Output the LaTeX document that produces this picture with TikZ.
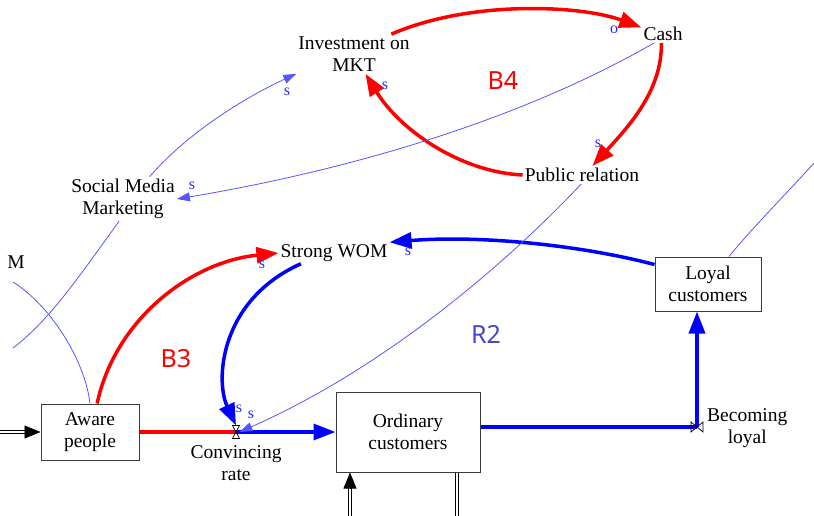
\documentclass[tikz,border=0pt]{standalone}
\usepackage{fontspec}
\setmainfont{Liberation Serif}
\newfontfamily\loopfont{Noto Sans}
\usetikzlibrary{arrows.meta,calc}
\definecolor{thinblue}{RGB}{85,85,255}
\definecolor{polblue}{RGB}{40,40,255}
\definecolor{loopblue}{RGB}{70,70,200}
\definecolor{boxgray}{RGB}{60,60,60}
\definecolor{lred}{RGB}{255,0,0}
\definecolor{lblue}{RGB}{0,0,255}
\begin{document}
\begin{tikzpicture}[x=1pt,y=-1pt,
  lbl/.style={font=\fontsize{19.5}{22.5}\selectfont, align=center, inner sep=2pt},
  stock/.style={lbl, draw=boxgray, line width=1pt},
  pol/.style={font=\fontsize{16}{18}\selectfont, text=polblue, inner sep=0pt},
  looplbl/.style={font=\loopfont\fontsize{25}{27}\selectfont, inner sep=0pt},
  bigtip/.style={-{Triangle[length=22pt,width=16pt]}},
  thickred/.style={draw=lred, line width=3.5pt, bigtip},
  thickblue/.style={draw=lblue, line width=3.5pt, bigtip},
  thinlink/.style={draw=thinblue, line width=0.8pt},
  thinarrow/.style={thinlink, -{Triangle[length=13pt,width=9pt]}},
  pipered/.style={draw=lred, line width=3.5pt},
  pipeblue/.style={draw=lblue, line width=3.5pt},
  dblpipe/.style={draw=black, double=white, double distance=2.5pt, line width=0.7pt},
  inflowtip/.style={draw=black, line width=0.7pt, -{Triangle[length=16pt,width=13pt]}},
  valveshape/.style={draw=black, line width=0.7pt},
  valvenode/.style={inner sep=0pt, outer sep=0pt}
]
\useasboundingbox (0,0) rectangle (814,516);

% variables
\node[lbl] (inv) at (354,54) {Investment on\\MKT};
\node[lbl] (cash) at (663,34) {Cash};
\node[lbl] (pr) at (582,175) {Public relation};
\node[lbl] (smm) at (123,199) {Social Media\\Marketing};
\node[lbl] (swom) at (334,253) {Strong WOM};
\node[lbl, anchor=east] (wom) at (27,262) {M};

% stocks
\node[stock, minimum width=98pt, minimum height=56pt] (aware) at (90,432) {Aware\\people};
\node[stock, minimum width=144pt, minimum height=80pt] (ord) at (408,432) {Ordinary\\customers};
\node[stock, minimum width=106pt, minimum height=54pt] (loyal) at (708,284) {Loyal\\customers};

% valves
\node[valvenode, minimum width=7pt, minimum height=13pt] (cr) at (236,432) {};
\node[valvenode, minimum width=12pt, minimum height=10pt] (bl) at (697,427) {};
\node[lbl, anchor=north] (crl) at (236,443) {Convincing\\rate};
\node[lbl, anchor=west] (bll) at (705,428) {Becoming\\loyal};

% free ends
\coordinate (srcL) at (0,432);
\coordinate (srcB) at (350,516);
\coordinate (snkB) at (457,516);
\coordinate (offL1) at (13,348);
\coordinate (offL2) at (13,282);
\coordinate (offTR) at (816,161);

% flows
\draw[dblpipe] (srcL) -- ($(aware.west)+(-15,0)$);
\draw[inflowtip] ($(aware.west)+(-16,0)$) -- (aware.west);
\draw[dblpipe] (srcB) -- ($(srcB |- ord.south)+(0,15)$);
\draw[inflowtip] ($(srcB |- ord.south)+(0,16)$) -- (srcB |- ord.south);
\draw[dblpipe] (snkB |- ord.south) -- (snkB);
\draw[pipered] (aware.east) -- (cr.center);
\draw[pipeblue, bigtip] (cr.center) -- (ord.west);
\draw[pipeblue] (ord.east |- bl) -- (bl.center);
\draw[pipeblue, bigtip] (bl.center) -- (bl |- loyal.south);

% red causal links
\draw[thickred] (inv.28) .. controls (470,0) and (580,5) .. (cash.163);
\draw[thickred] (cash.-100) .. controls (662,90) and (630,125) .. (pr.41);
\draw[thickred] (pr.west) .. controls (460,172) and (400,130) .. (inv.-60);
\draw[thickred] (aware.76) .. controls (115,320) and (190,262) .. (swom.west);

% blue thick links
\draw[thickblue] (swom.198) .. controls (220,300) and (215,380) .. (cr.north);
\draw[thickblue] (loyal.160) .. controls (580,245) and (480,235) .. (swom.north east);

% thin links
\draw[thinarrow] (cash.-135) .. controls (520,120) and (350,170) .. (smm.east);
\draw[thinarrow] (smm.40) .. controls (190,130) and (250,95) .. (inv.south west);
\draw[thinlink] (smm.-100) .. controls (80,275) and (50,320) .. (offL1);
\draw[thinlink] (offL2) .. controls (50,305) and (85,360) .. (aware.north);
\draw[thinarrow] (pr.-95) .. controls (500,270) and (380,370) .. (cr.east);
\draw[thinlink] (loyal.north) ++(21,0) .. controls (755,225) and (785,195) .. (offTR);

% valve glyphs
\draw[valveshape] (cr.north west) -- (cr.north east) -- (cr.south west) -- (cr.south east) -- cycle;
\draw[valveshape] (bl.north west) -- (bl.south west) -- (bl.north east) -- (bl.south east) -- cycle;

% polarities
\node[pol] at (614,30) {o};
\node[pol] at (598,144) {s};
\node[pol] at (385,86) {s};
\node[pol] at (287,92) {s};
\node[pol] at (192,186) {s};
\node[pol] at (262,265) {s};
\node[pol] at (408,252) {s};
\node[pol] at (239,409) {s};
\node[pol] at (251,415) {s};

% loop labels
\node[looplbl, text=lred] at (503,81) {B4};
\node[looplbl, text=loopblue] at (486,334) {R2};
\node[looplbl, text=lred] at (176,359) {B3};
\end{tikzpicture}
\end{document}
